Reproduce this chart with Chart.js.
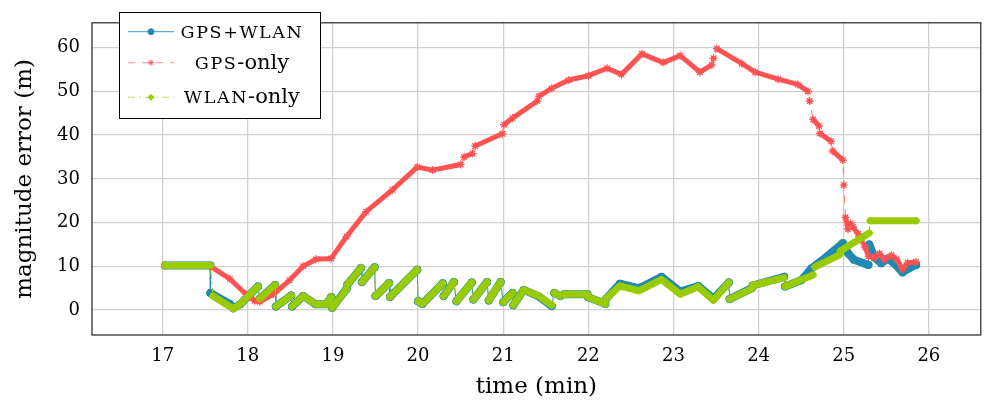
<!DOCTYPE html>
<html>
<head>
<meta charset="utf-8">
<script src="https://cdn.jsdelivr.net/npm/chart.js@4.4.1/dist/chart.umd.min.js"></script>
<style>
  html, body { margin: 0; padding: 0; background: #fff; }
  #errChart { display: block; }
</style>
</head>
<body>
<canvas id="errChart" width="986" height="410"></canvas>
<script>
const xTicks = [17, 18, 19, 20, 21, 22, 23, 24, 25, 26];
const yTicks = [0, 10, 20, 30, 40, 50, 60];

// [time (min), error (m)] samples, one sub-array per unbroken run
const gpsWlanRuns = [
  [[17.03, 10.2], [17.56, 10.2]],
  [[17.56, 3.9], [17.79, 1.4], [17.83, 0.4], [17.91, 1.3], [18.12, 5.4]],
  [[18.14, 2.6], [18.32, 5.7]],
  [[18.33, 0.8], [18.51, 3.3]],
  [[18.52, 0.8], [18.65, 3.2], [18.80, 1.3], [18.92, 1.3], [18.98, 3.0]],
  [[18.99, 0.5], [19.16, 4.8]],
  [[19.17, 5.8], [19.33, 9.6]],
  [[19.34, 6.4], [19.49, 9.8]],
  [[19.50, 3.2], [19.66, 6.2]],
  [[19.67, 3.0], [19.99, 9.2]],
  [[20.00, 2.0], [20.05, 1.4], [20.29, 6.1]],
  [[20.30, 3.2], [20.42, 6.4]],
  [[20.45, 2.0], [20.63, 6.3]],
  [[20.65, 2.4], [20.81, 6.4]],
  [[20.83, 2.2], [20.97, 6.4]],
  [[21.00, 1.8], [21.11, 3.9]],
  [[21.12, 1.1], [21.24, 4.6], [21.42, 3.1], [21.57, 0.9]],
  [[21.60, 3.9], [21.67, 3.2]],
  [[21.72, 3.6], [21.99, 3.6]],
  [[22.00, 2.9], [22.20, 1.4]],
  [[22.21, 2.6], [22.37, 6.0], [22.59, 5.0], [22.62, 5.2], [22.86, 7.6], [23.08, 4.2], [23.29, 5.5], [23.47, 2.6], [23.65, 6.3]],
  [[23.66, 2.5], [23.92, 5.0]],
  [[23.93, 5.6], [24.30, 7.6]],
  [[24.31, 5.4], [24.50, 6.8], [24.62, 9.5], [24.80, 12.2], [24.99, 15.3], [25.05, 13.0], [25.12, 11.5], [25.29, 10.3]],
  [[25.30, 15.0], [25.36, 12.0], [25.44, 10.7], [25.52, 11.8], [25.60, 10.5], [25.69, 8.6], [25.77, 9.6], [25.85, 10.3]]
];

const gpsOnlyRuns = [
  [[17.03, 10.2], [17.56, 10.0], [17.79, 7.1], [17.98, 3.6], [18.08, 2.1], [18.14, 1.9], [18.30, 3.6],
   [18.49, 6.8], [18.65, 10.0], [18.80, 11.6], [18.98, 11.8], [19.16, 16.8], [19.39, 22.5], [19.70, 27.5],
   [19.99, 32.7], [20.17, 32.0], [20.50, 33.3]],
  [[20.54, 35.0], [20.64, 35.8]],
  [[20.67, 37.5], [20.99, 40.3]],
  [[21.01, 42.4], [21.11, 43.9], [21.40, 47.8]],
  [[21.42, 48.9], [21.57, 50.7], [21.77, 52.6], [22.00, 53.6], [22.22, 55.3], [22.39, 53.9], [22.63, 58.6],
   [22.88, 56.6], [23.08, 58.2], [23.31, 54.4], [23.45, 56.1]],
  [[23.47, 57.6]],
  [[23.51, 59.8], [23.80, 56.4], [23.96, 54.4], [24.23, 52.8], [24.46, 51.6], [24.58, 50.0]],
  [[24.60, 47.8]],
  [[24.64, 43.6], [24.71, 42.1]],
  [[24.72, 40.4], [24.85, 38.6]],
  [[24.87, 36.4], [24.99, 34.3]],
  [[25.00, 28.6]],
  [[25.02, 21.2], [25.05, 18.5], [25.08, 19.8], [25.11, 19.0], [25.17, 17.4], [25.25, 14.4], [25.29, 12.3],
   [25.36, 12.0], [25.42, 12.9], [25.48, 11.6], [25.56, 12.5], [25.62, 11.6], [25.69, 9.4], [25.75, 10.8], [25.85, 11.0]]
];

const wlanOnlyRuns = [
  [[17.03, 10.2], [17.56, 10.2]],
  [[17.59, 3.2], [17.83, 0.3], [17.91, 1.3], [18.12, 5.4]],
  [[18.14, 2.6], [18.32, 5.7]],
  [[18.33, 0.8], [18.51, 3.3]],
  [[18.52, 0.8], [18.65, 3.2], [18.80, 1.3], [18.92, 1.3], [18.98, 3.0]],
  [[18.99, 0.5], [19.16, 4.8]],
  [[19.17, 5.8], [19.33, 9.6]],
  [[19.34, 6.4], [19.49, 9.8]],
  [[19.50, 3.2], [19.66, 6.2]],
  [[19.67, 3.0], [19.99, 9.2]],
  [[20.00, 2.0], [20.05, 1.4], [20.29, 6.1]],
  [[20.30, 3.2], [20.42, 6.4]],
  [[20.45, 2.0], [20.63, 6.3]],
  [[20.65, 2.4], [20.81, 6.4]],
  [[20.83, 2.2], [20.97, 6.4]],
  [[21.00, 1.8], [21.11, 3.9]],
  [[21.12, 1.1], [21.24, 4.6], [21.42, 3.2], [21.57, 1.1]],
  [[21.60, 3.9], [21.67, 3.2]],
  [[21.72, 3.6], [21.99, 3.6]],
  [[22.00, 2.9], [22.20, 1.4]],
  [[22.21, 2.6], [22.37, 5.5], [22.59, 4.4], [22.62, 4.6], [22.86, 7.0], [23.08, 3.6], [23.29, 5.3], [23.47, 2.2], [23.65, 6.3]],
  [[23.66, 2.5], [23.92, 4.9]],
  [[23.93, 5.6], [24.30, 7.4]],
  [[24.31, 5.4], [24.64, 8.0]],
  [[24.66, 9.8], [24.95, 12.6]],
  [[24.96, 13.5], [25.30, 17.6]],
  [[25.31, 20.4], [25.85, 20.4]]
];

const blue = 'rgb(33,138,178)';
const red = 'rgb(255,82,82)';
const green = 'rgb(153,204,0)';
const serif = 'DejaVu Serif';

// thick run segments, broken between runs
function bandData(runs) {
  const out = [];
  runs.forEach((run, i) => {
    if (i > 0) out.push({ x: run[0][0], y: null });
    run.forEach(p => out.push({ x: p[0], y: p[1] }));
  });
  return out;
}

// thin connecting path through every sample
function pathData(runs) {
  return runs.flat().map(p => ({ x: p[0], y: p[1] }));
}

const legendEntries = [
  { caps: 'GPS+WLAN', tail: '', color: 'rgb(60,150,190)', dash: [], marker: 'circle', markerColor: blue, y: 31.7 },
  { caps: 'GPS', tail: '-only', color: 'rgb(255,150,150)', dash: [7, 7], marker: 'star', markerColor: red, y: 62.7 },
  { caps: 'WLAN', tail: '-only', color: 'rgb(185,222,90)', dash: [7, 4, 2, 4], marker: 'rectRot', markerColor: green, y: 97.3 }
];

const frameAndLegend = {
  id: 'frameAndLegend',
  afterDraw(chart) {
    const ctx = chart.ctx;
    const a = chart.chartArea;
    ctx.save();
    ctx.strokeStyle = '#222';
    ctx.lineWidth = 1.2;
    ctx.strokeRect(a.left, a.top, a.right - a.left, a.bottom - a.top);

    ctx.fillStyle = '#fff';
    ctx.fillRect(119.5, 12.5, 201, 106);
    ctx.strokeStyle = '#000';
    ctx.lineWidth = 1;
    ctx.strokeRect(119.5, 12.5, 201, 106);

    legendEntries.forEach(e => {
      ctx.strokeStyle = e.color;
      ctx.lineWidth = 1;
      ctx.setLineDash(e.dash);
      ctx.beginPath();
      ctx.moveTo(128, e.y);
      ctx.lineTo(174, e.y);
      ctx.stroke();
      ctx.setLineDash([]);
      ctx.fillStyle = e.markerColor;
      ctx.strokeStyle = e.markerColor;
      Chart.helpers.drawPoint(ctx, { pointStyle: e.marker, radius: 3, rotation: 0, borderWidth: 1 }, 151, e.y);

      // small-caps part then the lowercase tail, centred in the text column
      ctx.fillStyle = '#000';
      ctx.textAlign = 'left';
      ctx.textBaseline = 'alphabetic';
      ctx.font = '17.5px "' + serif + '"';
      ctx.letterSpacing = '1.6px';
      const w1 = ctx.measureText(e.caps).width;
      ctx.font = '21px "' + serif + '"';
      ctx.letterSpacing = '0px';
      const w2 = e.tail ? ctx.measureText(e.tail).width : 0;
      const x = 242 - (w1 + w2) / 2;
      ctx.font = '17.5px "' + serif + '"';
      ctx.letterSpacing = '1.6px';
      ctx.fillText(e.caps, x, e.y + 5.9);
      if (e.tail) {
        ctx.font = '21px "' + serif + '"';
        ctx.letterSpacing = '0px';
        ctx.fillText(e.tail, x + w1, e.y + 5.9);
      }
    });
    ctx.restore();
  }
};

const ctx = document.getElementById('errChart').getContext('2d');

new Chart(ctx, {
  type: 'line',
  data: {
    datasets: [
      { label: 'WLAN-only', data: bandData(wlanOnlyRuns), borderColor: green, backgroundColor: green,
        borderWidth: 7, pointStyle: 'rectRot', pointRadius: 4, pointBorderWidth: 0, order: 0 },
      { data: pathData(wlanOnlyRuns), borderColor: green, borderWidth: 1, borderDash: [7, 4, 2, 4],
        pointRadius: 0, order: 1 },
      { label: 'GPS-only', data: bandData(gpsOnlyRuns), borderColor: red, backgroundColor: red,
        borderWidth: 5, pointStyle: 'star', pointRadius: 4, pointBorderColor: red, pointBorderWidth: 1.2, order: 2 },
      { data: pathData(gpsOnlyRuns), borderColor: 'rgb(255,120,120)', borderWidth: 1, borderDash: [7, 7],
        pointRadius: 0, order: 3 },
      { label: 'GPS+WLAN', data: bandData(gpsWlanRuns), borderColor: blue, backgroundColor: blue,
        borderWidth: 8, pointStyle: 'circle', pointRadius: 4, pointBorderWidth: 0, order: 4 },
      { data: pathData(gpsWlanRuns), borderColor: blue, borderWidth: 1, pointRadius: 0, order: 5 }
    ]
  },
  options: {
    responsive: false,
    animation: false,
    spanGaps: false,
    datasets: {
      line: { tension: 0, fill: false, borderCapStyle: 'round', borderJoinStyle: 'round', pointHoverRadius: 0 }
    },
    layout: { padding: { top: 2, right: 0, bottom: 0, left: 0 } },
    plugins: { legend: { display: false }, tooltip: { enabled: false } },
    scales: {
      x: {
        type: 'linear',
        min: 16.17,
        max: 26.61,
        afterBuildTicks: s => { s.ticks = xTicks.map(v => ({ value: v })); },
        afterFit: s => { s.height = 75; },
        grid: { color: '#d0d0d0', lineWidth: 1.3, drawTicks: false },
        border: { display: false },
        ticks: { font: { family: serif, size: 18 }, color: '#000', padding: 11, maxRotation: 0, autoSkip: false },
        title: { display: true, text: 'time (min)', color: '#000', font: { family: serif, size: 23 },
                 padding: { top: 0, bottom: 9 } }
      },
      y: {
        type: 'linear',
        min: -5.72,
        max: 65.7,
        afterBuildTicks: s => { s.ticks = yTicks.map(v => ({ value: v })); },
        afterFit: s => { s.width = 92; },
        grid: { color: '#d0d0d0', lineWidth: 1.3, drawTicks: false },
        border: { display: false },
        ticks: { font: { family: serif, size: 18 }, color: '#000', padding: 12 },
        title: { display: true, text: 'magnitude error (m)', color: '#000', font: { family: serif, size: 23 },
                 padding: { top: 11, bottom: 0 } }
      }
    }
  },
  plugins: [frameAndLegend]
});
</script>
</body>
</html>
